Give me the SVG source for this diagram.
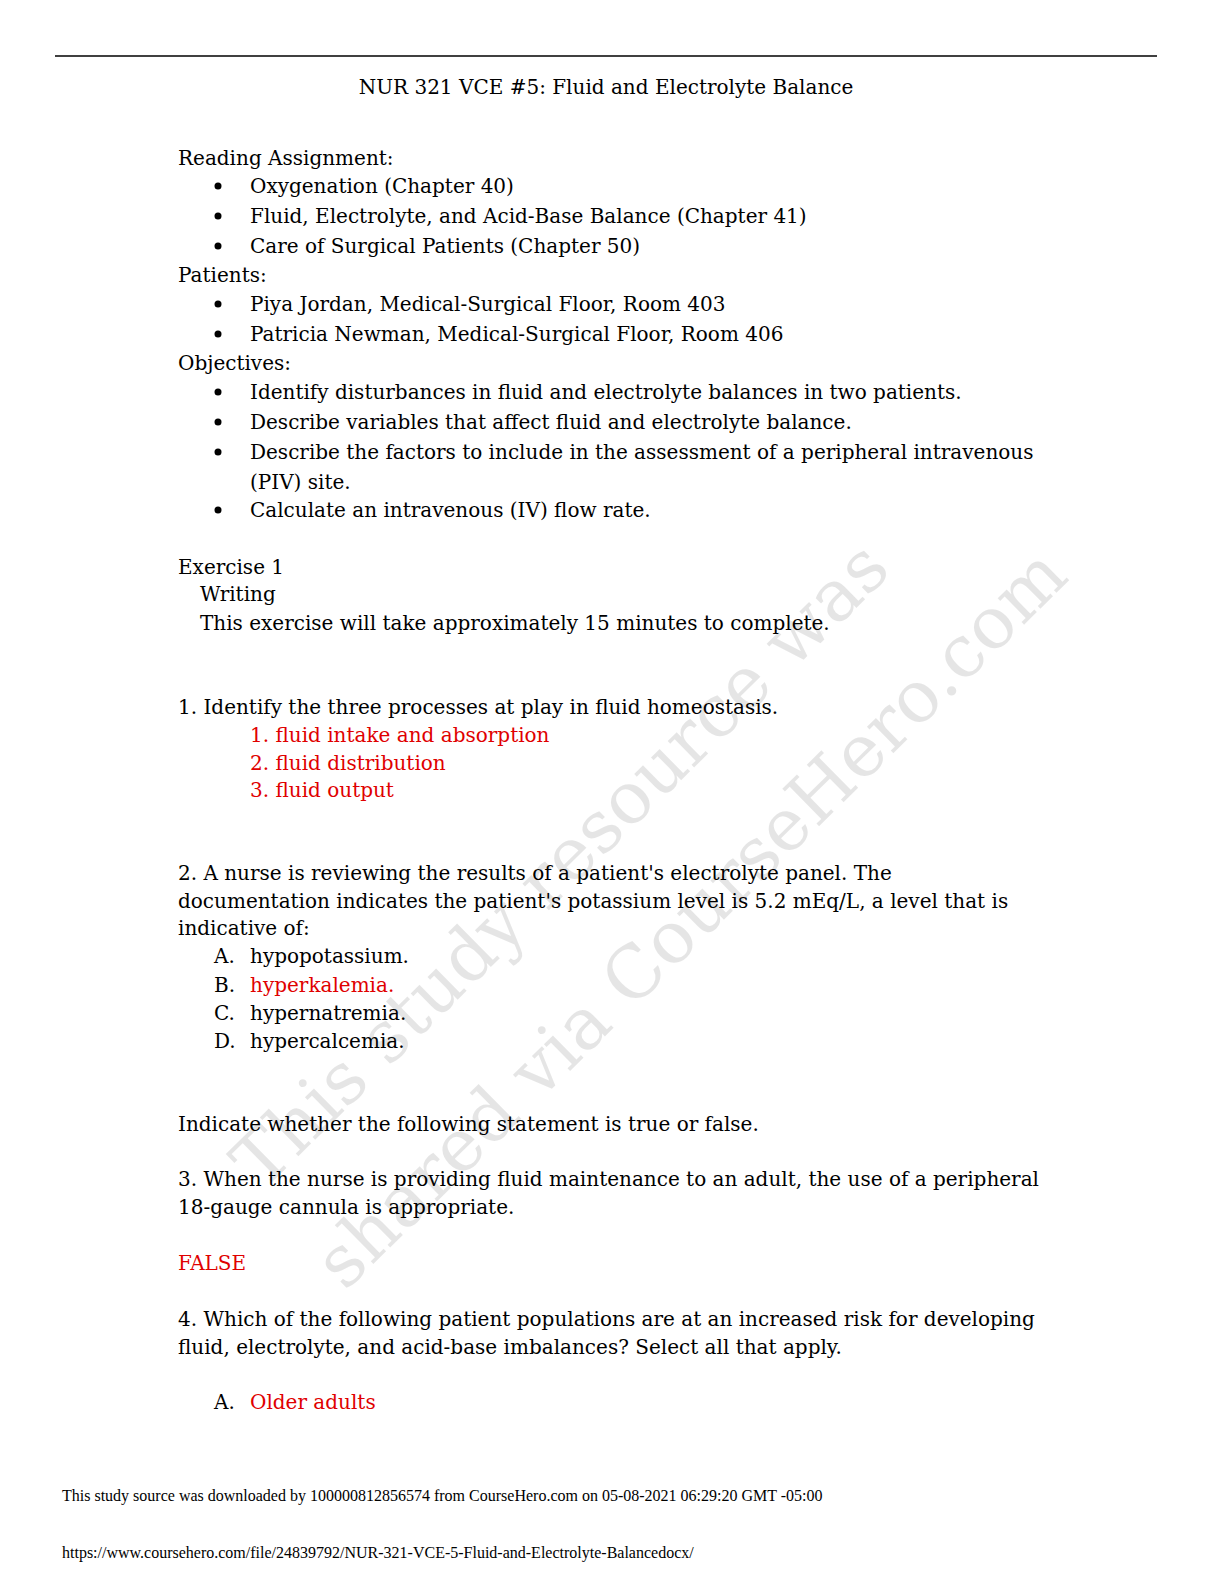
<svg xmlns="http://www.w3.org/2000/svg" width="1224" height="1584" viewBox="0 0 1224 1584">
<style>
text{font-family:"DejaVu Serif","Liberation Serif",serif;font-size:20px;fill:#000}
.r{fill:#e00000}
.w{font-size:72px;fill:#000;fill-opacity:0.1}
.f{font-family:"Liberation Serif",serif;font-size:16px}
</style>
<rect width="1224" height="1584" fill="#fff"/>
<line x1="55" y1="56" x2="1157" y2="56" stroke="#000" stroke-width="1.5"/>
<g id="watermark">
<text class="w" transform="translate(262,1192) rotate(-44.5)">This study resource was</text>
<text class="w" transform="translate(345,1292) rotate(-44.5)">shared via CourseHero.com</text>
</g>
<text x="606" y="94" text-anchor="middle">NUR 321 VCE #5: Fluid and Electrolyte Balance</text>
<text x="178" y="165">Reading Assignment:</text>
<g id="bullets">
<circle cx="218" cy="186" r="3.5"/><circle cx="218" cy="216" r="3.5"/><circle cx="218" cy="246" r="3.5"/>
<circle cx="218" cy="304" r="3.5"/><circle cx="218" cy="334" r="3.5"/>
<circle cx="218" cy="392" r="3.5"/><circle cx="218" cy="422" r="3.5"/><circle cx="218" cy="452" r="3.5"/><circle cx="218" cy="510" r="3.5"/>
</g>
<text x="250" y="193">Oxygenation (Chapter 40)</text>
<text x="250" y="223">Fluid, Electrolyte, and Acid-Base Balance (Chapter 41)</text>
<text x="250" y="253">Care of Surgical Patients (Chapter 50)</text>
<text x="178" y="282">Patients:</text>
<text x="250" y="311">Piya Jordan, Medical-Surgical Floor, Room 403</text>
<text x="250" y="341">Patricia Newman, Medical-Surgical Floor, Room 406</text>
<text x="178" y="370">Objectives:</text>
<text x="250" y="399">Identify disturbances in fluid and electrolyte balances in two patients.</text>
<text x="250" y="429">Describe variables that affect fluid and electrolyte balance.</text>
<text x="250" y="459">Describe the factors to include in the assessment of a peripheral intravenous</text>
<text x="250" y="489">(PIV) site.</text>
<text x="250" y="517">Calculate an intravenous (IV) flow rate.</text>
<text x="178" y="574">Exercise 1</text>
<text x="200" y="601">Writing</text>
<text x="200" y="630">This exercise will take approximately 15 minutes to complete.</text>
<text x="178" y="714">1. Identify the three processes at play in fluid homeostasis.</text>
<text x="250" y="742" class="r">1. fluid intake and absorption</text>
<text x="250" y="770" class="r">2.  fluid distribution</text>
<text x="250" y="797" class="r">3.  fluid output</text>
<text x="178" y="880">2. A nurse is reviewing the results of a patient's electrolyte panel. The</text>
<text x="178" y="908">documentation indicates the patient's potassium level is 5.2 mEq/L, a level that is</text>
<text x="178" y="935">indicative of:</text>
<text x="214" y="963">A.</text><text x="250" y="963">hypopotassium.</text>
<text x="214" y="992">B.</text><text x="250" y="992" class="r">hyperkalemia.</text>
<text x="214" y="1020">C.</text><text x="250" y="1020">hypernatremia.</text>
<text x="214" y="1048">D.</text><text x="250" y="1048">hypercalcemia.</text>
<text x="178" y="1131">Indicate whether the following statement is true or false.</text>
<text x="178" y="1186">3. When the nurse is providing fluid maintenance to an adult, the use of a peripheral</text>
<text x="178" y="1214">18-gauge cannula is appropriate.</text>
<text x="178" y="1270" class="r">FALSE</text>
<text x="178" y="1326">4. Which of the following patient populations are at an increased risk for developing</text>
<text x="178" y="1354">fluid, electrolyte, and acid-base imbalances? Select all that apply.</text>
<text x="214" y="1409">A.</text><text x="250" y="1409" class="r">Older adults</text>
<text class="f" x="62" y="1501">This study source was downloaded by 100000812856574 from CourseHero.com on 05-08-2021 06:29:20 GMT -05:00</text>
<text class="f" x="62" y="1558">https://www.coursehero.com/file/24839792/NUR-321-VCE-5-Fluid-and-Electrolyte-Balancedocx/</text>
</svg>
